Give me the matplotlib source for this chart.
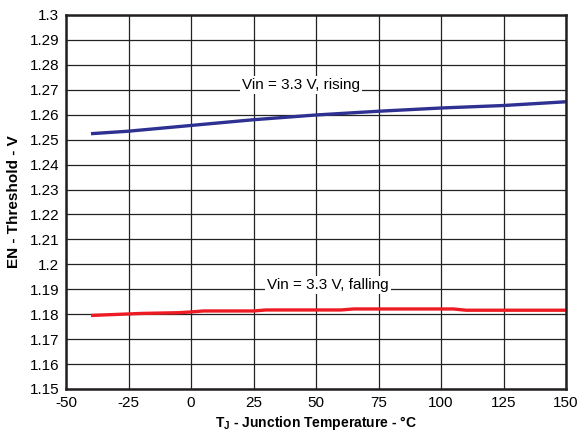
import matplotlib
matplotlib.use("Agg")
import matplotlib.pyplot as plt

plt.rcParams['font.family'] = ['Liberation Sans', 'DejaVu Sans']
plt.rcParams['mathtext.fontset'] = 'custom'
plt.rcParams['mathtext.rm'] = 'Liberation Sans'
plt.rcParams['mathtext.bf'] = 'Liberation Sans:bold'

# data
temp_rise = [-40, -25, 0, 25, 50, 75, 100, 125, 150]
en_rise = [1.2524, 1.2534, 1.2557, 1.2580, 1.2599, 1.2614, 1.2627, 1.2637, 1.2652]

temp_fall = [-40, -30, -20, -5, 0, 5, 25, 30, 60, 65, 105, 110, 150]
en_fall = [1.1795, 1.1799, 1.1803, 1.1806, 1.1809, 1.1813, 1.1813, 1.1817, 1.1817, 1.1821, 1.1821, 1.1816, 1.1816]

xticks = [-50, -25, 0, 25, 50, 75, 100, 125, 150]
yticks = [round(1.15 + 0.01 * i, 2) for i in range(16)]

fig = plt.figure(figsize=(5.78, 4.36), dpi=100)
ax = fig.add_axes([66 / 578, 1 - 389 / 436, 500 / 578, 374 / 436])

ax.plot(temp_rise, en_rise, color='#2e3192', lw=2.4, solid_capstyle='butt')
ax.plot(temp_fall, en_fall, color='#ed1c24', lw=2.4, solid_capstyle='butt')

ax.set_xlim(-50, 150)
ax.set_ylim(1.15, 1.30)
ax.set_xticks(xticks)
ax.set_yticks(yticks)
ax.set_xticklabels([str(t) for t in xticks])
ax.set_yticklabels(['%g' % t for t in yticks])
ax.tick_params(length=0, labelsize=11)
ax.tick_params(axis='x', pad=5)
ax.tick_params(axis='y', pad=5)
ax.grid(True, color='#222222', lw=0.9)
ax.set_axisbelow(True)
for s in ax.spines.values():
    s.set_linewidth(1.8)
    s.set_color('#231f20')

ax.text(20.4, 1.2719, 'Vin = 3.3 V, rising', fontsize=11, va='center', ha='left',
        bbox=dict(facecolor='white', edgecolor='none', pad=1.5))
ax.text(30.3, 1.1917, 'Vin = 3.3 V, falling', fontsize=11, va='center', ha='left',
        bbox=dict(facecolor='white', edgecolor='none', pad=1.5))

ax.set_xlabel(r'$\mathbf{T_J}$ - Junction Temperature - °C', fontsize=10, fontweight='bold', labelpad=3)
ax.set_ylabel('EN - Threshold - V', fontsize=11, fontweight='bold', labelpad=6)

fig.savefig('out.png', dpi=100)
